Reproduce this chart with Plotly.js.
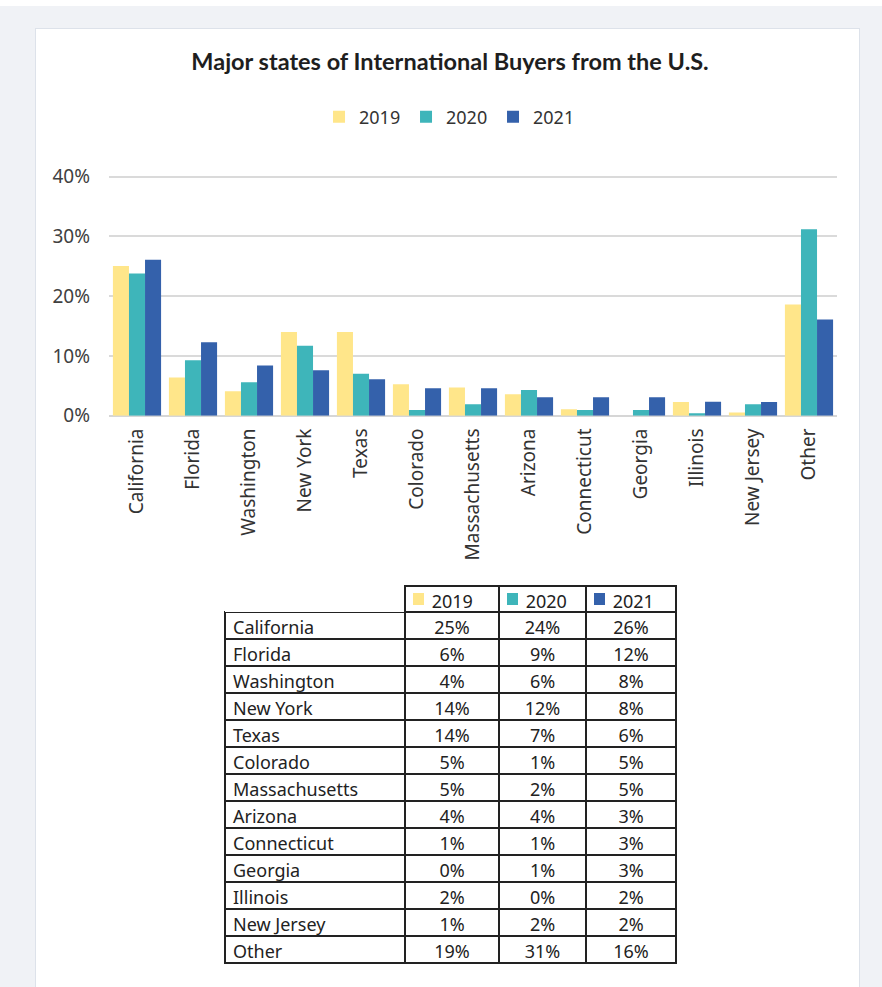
<!DOCTYPE html>
<html><head><meta charset="utf-8">
<script src="https://cdn.plot.ly/plotly-3.0.1.min.js"></script>
<style>
html,body{margin:0;padding:0;background:#fff;overflow:hidden;}
#bg{position:absolute;left:0;top:6px;width:882px;height:981px;background:#f0f2f6;}
#panel{position:absolute;left:35px;top:28px;width:823px;height:970px;background:#fff;border:1px solid #dde2ea;}
#chart{position:absolute;left:0;top:0;width:882px;height:987px;}
</style></head><body>
<div id="bg"></div><div id="panel"></div><div id="chart"></div>
<script>
const states = ['California','Florida','Washington','New York','Texas','Colorado','Massachusetts','Arizona','Connecticut','Georgia','Illinois','New Jersey','Other'];
const years = ['2019','2020','2021'];
const v2019 = [25.05, 6.4, 4.1, 14.0, 14.0, 5.25, 4.7, 3.6, 1.1, 0, 2.3, 0.55, 18.6];
const v2020 = [23.8, 9.3, 5.6, 11.7, 7.0, 0.95, 1.9, 4.3, 0.95, 0.95, 0.4, 1.9, 31.2];
const v2021 = [26.1, 12.3, 8.4, 7.6, 6.1, 4.6, 4.6, 3.1, 3.1, 3.1, 2.35, 2.3, 16.1];
const yTickVals = [0, 10, 20, 30, 40];
const yTickText = ['0%', '10%', '20%', '30%', '40%'];
const colors = ['#FFE68A', '#3EB5BA', '#3461AB'];
const series = [v2019, v2020, v2021];

const W = 882, H = 987;
const FONT = 'Noto Sans, sans-serif';

// table geometry (px)
const tblLeft = 225, tblTop = 586, headerH = 26, rowH = 27;
const colW = [180, 94, 87, 90];

const traces = series.map((vals, i) => ({
  type: 'bar', name: years[i], x: states, y: vals,
  marker: {color: colors[i], line: {width: 0}},
  hoverinfo: 'x+y'
}));

const pct = v => Math.round(v) + '%';
const NB = '\u00a0\u00a0\u00a0\u00a0';
traces.push({
  type: 'table',
  domain: {x: [tblLeft / W, (tblLeft + colW.reduce((a, b) => a + b, 0)) / W], y: [0, 1 - tblTop / H]},
  columnwidth: colW,
  header: {
    values: [''].concat(years.map(y => NB + y)),
    align: 'left',
    height: headerH,
    fill: {color: 'white'},
    line: {color: ['rgba(0,0,0,0)', '#222', '#222', '#222'], width: 2},
    font: {family: FONT, size: 18, color: '#222'}
  },
  cells: {
    values: [states, v2019.map(pct), v2020.map(pct), v2021.map(pct)],
    align: ['left', 'center', 'center', 'center'],
    height: rowH,
    fill: {color: 'white'},
    line: {color: '#222', width: 2},
    font: {family: FONT, size: 18, color: '#222'}
  }
});

// colour keys in the table header
const shapes = years.map((y, i) => {
  const left = tblLeft + colW.slice(0, i + 1).reduce((a, b) => a + b, 0) + 8;
  const cy = tblTop + headerH / 2;
  return {
    type: 'rect', xref: 'paper', yref: 'paper',
    x0: left / W, x1: (left + 11) / W,
    y0: 1 - (cy + 6) / H, y1: 1 - (cy - 6) / H,
    fillcolor: colors[i], line: {width: 0}, layer: 'above'
  };
});

const layout = {
  width: W, height: H,
  margin: {l: 0, r: 0, t: 0, b: 0},
  paper_bgcolor: 'rgba(0,0,0,0)',
  plot_bgcolor: 'rgba(0,0,0,0)',
  font: {family: FONT, color: '#333'},
  title: {
    text: '<b>Major states of International Buyers from the U.S.</b>',
    x: 450 / W, xanchor: 'center', xref: 'paper',
    y: 1 - 62 / H, yanchor: 'middle', yref: 'paper',
    font: {family: 'Lato, sans-serif', size: 23.5, color: '#1e1e1e'}
  },
  showlegend: true,
  legend: {
    orientation: 'h', x: 0.3617, xanchor: 'left', y: 1 - 117 / H, yanchor: 'middle',
    entrywidth: 42, font: {family: FONT, size: 18, color: '#333'},
    bgcolor: 'rgba(0,0,0,0)'
  },
  shapes: shapes,
  barmode: 'group', bargap: 0.14, bargroupgap: 0,
  xaxis: {
    domain: [109 / W, 837 / W], type: 'category', tickangle: -90,
    tickfont: {family: FONT, size: 19, color: '#333'},
    ticklabelstandoff: 8,
    showgrid: false, showline: false, ticks: '', automargin: false
  },
  yaxis: {
    domain: [1 - 415.7 / H, 1 - 170.7 / H], range: [0, 41],
    tickmode: 'array', tickvals: yTickVals, ticktext: yTickText,
    tickfont: {family: FONT, size: 19, color: '#404040'},
    ticklabelstandoff: 18,
    gridcolor: '#dadada', gridwidth: 1.6,
    zeroline: true, zerolinecolor: '#d6d6d6', zerolinewidth: 2,
    showline: false, ticks: '', automargin: false, fixedrange: true
  }
};

Plotly.newPlot('chart', traces, layout, {displayModeBar: false});
</script>
</body></html>
